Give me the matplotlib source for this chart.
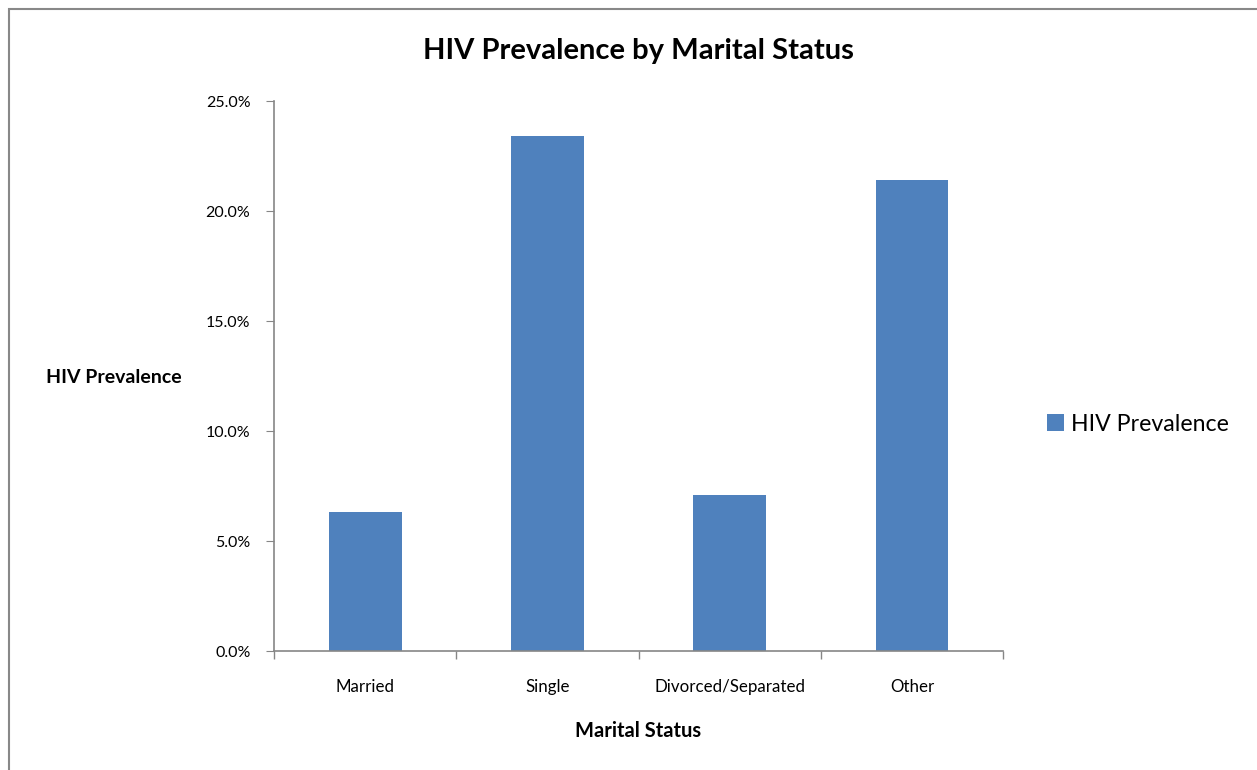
import matplotlib.pyplot as plt
from matplotlib.ticker import PercentFormatter, FixedLocator
from matplotlib.patches import Rectangle
import numpy as np

plt.rcParams['font.family'] = ['Lato', 'DejaVu Sans']

# data
categories = ['Married', 'Single', 'Divorced/Separated', 'Other']
prevalence = [6.3, 23.4, 7.1, 21.4]  # percent

fig = plt.figure(figsize=(12.57, 7.70), dpi=100)
ax = fig.add_axes([0.218, 0.1545, 0.580, 0.7143])

x = np.arange(len(categories))
ax.bar(x, prevalence, width=0.4, color='#4F81BD', label='HIV Prevalence')

ax.set_xlim(-0.5, len(categories) - 0.5)
ax.set_ylim(0, 25)
ax.set_yticks(np.arange(0, 25.1, 5))
ax.yaxis.set_major_formatter(PercentFormatter(decimals=1))
ax.set_xticks(x)
ax.set_xticklabels(categories, fontsize=12.2)
ax.tick_params(axis='x', length=0, pad=20)
ax.xaxis.set_minor_locator(FixedLocator(np.arange(-0.5, len(categories), 1)))
ax.tick_params(axis='x', which='minor', length=6, color='#868686', width=1)
ax.tick_params(axis='y', length=6, color='#868686', labelsize=11.5, pad=11)

for s in ['top', 'right']:
    ax.spines[s].set_visible(False)
for s in ['left', 'bottom']:
    ax.spines[s].set_color('#868686')
    ax.spines[s].set_linewidth(1.2)

ax.set_title('HIV Prevalence by Marital Status', fontsize=21, fontweight='bold', pad=30)
ax.set_xlabel('Marital Status', fontsize=14.5, fontweight='bold', labelpad=19)
ax.set_ylabel('HIV Prevalence', fontsize=14, fontweight='bold', rotation=0,
              va='center', ha='center')
ax.yaxis.set_label_coords(-0.2195, 0.498)

ax.legend(loc='center left', bbox_to_anchor=(1.031, 0.412), frameon=False, fontsize=16.7,
          handlelength=0.75, handleheight=0.75, handletextpad=0.3)

# outer chart border (left and top)
fig.patches.append(Rectangle((9 / 1257, -0.1), 1.2, (761 / 770) + 0.1, transform=fig.transFigure,
                             fill=False, edgecolor='#888888', linewidth=1.5))

fig.savefig('out.png', dpi=100)
